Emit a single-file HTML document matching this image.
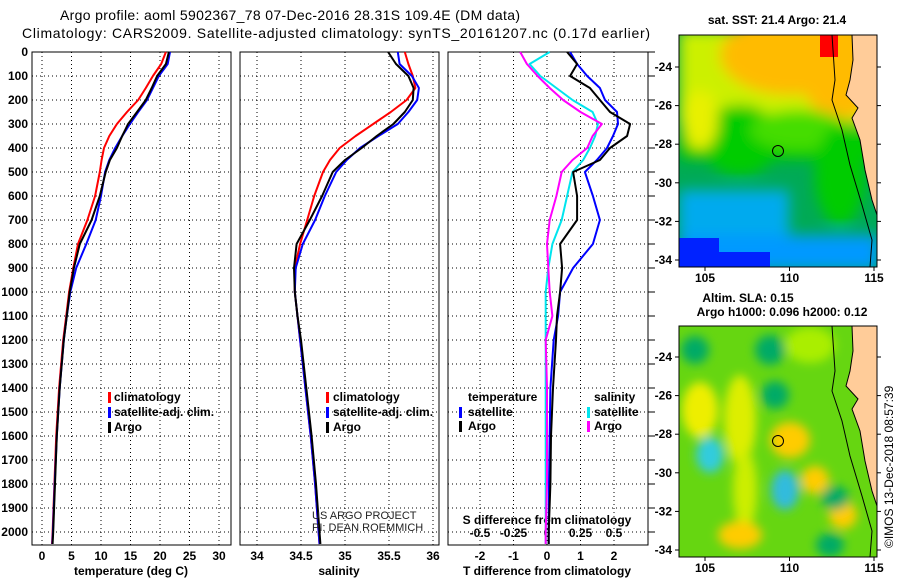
<!DOCTYPE html>
<html><head><meta charset="utf-8">
<style>
html,body{margin:0;padding:0;background:#fff;width:900px;height:580px;overflow:hidden}
svg text{font-family:"Liberation Sans",sans-serif}
.t{font-size:12px;font-weight:bold}
</style></head>
<body>
<svg id="c" width="900" height="580" viewBox="0 0 900 580" xmlns="http://www.w3.org/2000/svg">
<defs>
<filter id="bl" x="-50%" y="-50%" width="200%" height="200%"><feGaussianBlur stdDeviation="7"/></filter>
<filter id="bl2" x="-50%" y="-50%" width="200%" height="200%"><feGaussianBlur stdDeviation="5"/></filter>
<clipPath id="cm1"><rect x="679" y="35" width="198" height="232"/></clipPath>
<clipPath id="cm2"><rect x="679" y="326" width="198" height="231"/></clipPath>
</defs>
<text x="60" y="20" font-size="14" textLength="460">Argo profile: aoml 5902367_78 07-Dec-2016 28.31S 109.4E (DM data)</text>
<text x="22" y="38" font-size="14" textLength="628">Climatology: CARS2009. Satellite-adjusted climatology: synTS_20161207.nc (0.17d earlier)</text>
<g id="plots"></g>
<g>
<text x="777" y="24" class="t" text-anchor="middle">sat. SST: 21.4 Argo: 21.4</text>
<g clip-path="url(#cm1)">
<rect x="679" y="35" width="198" height="232" fill="#00aa55"/>
<g filter="url(#bl)">
<rect x="679" y="30" width="200" height="95" fill="#ccf000"/>
<ellipse cx="790" cy="55" rx="70" ry="40" fill="#ffbb00"/>
<ellipse cx="840" cy="70" rx="40" ry="50" fill="#ffbb00"/>
<ellipse cx="740" cy="140" rx="40" ry="35" fill="#00cc00"/>
<rect x="679" y="130" width="200" height="30" fill="#00cc00"/>
<ellipse cx="700" cy="120" rx="18" ry="30" fill="#e8f000"/>
<ellipse cx="800" cy="130" rx="50" ry="20" fill="#44dd00"/>
<ellipse cx="840" cy="175" rx="25" ry="50" fill="#00cc00"/>
<rect x="679" y="190" width="110" height="80" fill="#00aaee"/>
<rect x="679" y="235" width="200" height="35" fill="#0099ff"/>
</g>
<rect x="679" y="238" width="40" height="29" fill="#0022ff"/>
<rect x="715" y="252" width="55" height="15" fill="#0022ff"/>
<rect x="820" y="35" width="18" height="22" fill="#ff0000"/>
<path d="M877 35 L852 35 L853 60 L850 80 L846 95 L858 108 L852 118 L860 140 L865 170 L872 200 L877 215 Z" fill="#ffcc99" stroke="#000" stroke-width="1"/>
<path d="M832 35 L835 80 L832 100 L842 130 L850 165 L862 205 L872 240 L870 267" fill="none" stroke="#000" stroke-width="1"/>
<circle cx="778" cy="151" r="5.5" fill="none" stroke="#000"/>
</g>
<rect x="679" y="35" width="198" height="232" fill="none" stroke="#000"/>
</g>
<g>
<text x="748" y="302" class="t" text-anchor="middle">Altim. SLA: 0.15</text>
<text x="782" y="316" class="t" text-anchor="middle">Argo h1000: 0.096 h2000: 0.12</text>
<g clip-path="url(#cm2)">
<rect x="679" y="326" width="198" height="231" fill="#66d611"/>
<g filter="url(#bl2)">
<ellipse cx="700" cy="410" rx="18" ry="28" fill="#eeee00"/>
<ellipse cx="740" cy="420" rx="16" ry="45" fill="#ddee00"/>
<ellipse cx="745" cy="490" rx="12" ry="40" fill="#ccee00"/>
<ellipse cx="790" cy="440" rx="20" ry="18" fill="#ffcc00"/>
<ellipse cx="815" cy="480" rx="14" ry="14" fill="#ffcc00"/>
<ellipse cx="843" cy="515" rx="14" ry="14" fill="#ffcc00"/>
<ellipse cx="740" cy="535" rx="22" ry="14" fill="#ffcc00"/>
<ellipse cx="710" cy="455" rx="14" ry="18" fill="#33ccdd"/>
<ellipse cx="785" cy="490" rx="14" ry="20" fill="#33bbdd"/>
<ellipse cx="770" cy="350" rx="15" ry="15" fill="#00aa66"/>
<ellipse cx="775" cy="395" rx="14" ry="14" fill="#00aa66"/>
<ellipse cx="695" cy="350" rx="14" ry="14" fill="#00aa66"/>
<ellipse cx="835" cy="498" rx="14" ry="12" fill="#00aa66"/>
<ellipse cx="830" cy="545" rx="14" ry="12" fill="#00aa66"/>
<ellipse cx="810" cy="345" rx="25" ry="18" fill="#aaee00"/>
</g>
<path d="M877 326 L852 326 L853 351 L850 371 L846 386 L858 399 L852 409 L860 431 L865 461 L872 491 L877 506 Z" fill="#ffcc99" stroke="#000" stroke-width="1"/>
<path d="M832 326 L835 371 L832 391 L842 421 L850 456 L862 496 L872 531 L870 557" fill="none" stroke="#000" stroke-width="1"/>
<circle cx="778" cy="441" r="5.5" fill="none" stroke="#000"/>
</g>
<rect x="679" y="326" width="198" height="231" fill="none" stroke="#000"/>
</g>
<text transform="translate(893,548) rotate(-90)" font-size="12">©IMOS 13-Dec-2018 08:57:39</text>
<text x="312" y="519" font-size="11" fill="#222">US ARGO PROJECT</text>
<text x="312" y="531" font-size="11" fill="#222">PI: DEAN ROEMMICH</text>
</svg>
<script>
const depths=[0,50,100,150,200,250,300,350,400,450,500,600,700,800,900,1000,1100,1200,1400,1600,1800,2000,2050];
const tempClim=[21.0,20.2,18.8,17.6,16.3,14.4,12.7,11.4,10.5,10.1,9.8,9.0,7.7,6.1,5.3,4.6,4.1,3.6,2.9,2.4,2.1,1.8,1.7];
const tempSat=[21.7,21.3,19.8,18.8,17.8,16.3,14.9,13.6,12.4,11.4,10.7,10.0,9.1,7.5,5.8,4.8,4.2,3.7,3.0,2.5,2.15,1.85,1.75];
const tempArgo=[21.5,21.0,19.5,18.6,17.6,16.1,14.6,13.6,12.7,11.5,10.8,9.8,8.4,6.4,5.4,4.7,4.2,3.7,3.0,2.5,2.2,1.9,1.8];
const salClim=[35.68,35.72,35.77,35.80,35.70,35.52,35.32,35.12,34.94,34.83,34.75,34.65,34.57,34.49,34.43,34.43,34.46,34.49,34.55,34.61,34.66,34.70,34.71];
const salSat=[35.60,35.62,35.76,35.84,35.82,35.72,35.60,35.38,35.17,35.02,34.90,34.77,34.66,34.52,34.44,34.43,34.46,34.49,34.55,34.61,34.66,34.70,34.71];
const salArgo=[35.49,35.58,35.72,35.78,35.77,35.68,35.55,35.36,35.19,35.00,34.86,34.74,34.60,34.45,34.42,34.43,34.46,34.50,34.56,34.62,34.67,34.71,34.72];
const dTsat=[0.69,0.9,1.2,1.58,1.73,2.09,2.12,1.97,1.79,1.49,1.13,1.37,1.58,1.37,0.78,0.39,0.33,0.2,0.1,0.08,0.06,0.05,0.05];
const dTargo=[0.6,0.9,0.69,1.28,1.58,1.88,2.48,2.39,1.88,1.58,0.78,0.9,0.9,0.39,0.45,0.39,0.3,0.27,0.18,0.12,0.1,0.05,0.05];
const dSsat=[0.02,-0.13,-0.05,0.07,0.19,0.34,0.38,0.36,0.32,0.27,0.19,0.15,0.11,0.04,0.01,-0.01,-0.01,-0.01,-0.01,-0.01,-0.01,-0.01,-0.01];
const dSargo=[-0.2,-0.15,-0.07,0.02,0.12,0.25,0.41,0.34,0.30,0.19,0.11,0.07,0.02,0,0.01,0.02,0.04,-0.01,0,0,0,-0.01,-0.01];
const depthTicks=[0,100,200,300,400,500,600,700,800,900,1000,1100,1200,1300,1400,1500,1600,1700,1800,1900,2000];
const tempTicks=[0,5,10,15,20,25,30];
const salTicks=[34,34.5,35,35.5,36];
const dTTicks=[-2,-1,0,1,2];
const dSTicks=[-0.5,-0.25,0,0.25,0.5];
const latTicks=[-24,-26,-28,-30,-32,-34];
const lonTicks=[105,110,115];

const NS='http://www.w3.org/2000/svg';
const G=document.getElementById('plots');
function mk(tag,at,parent){const e=document.createElementNS(NS,tag);for(const k in at)e.setAttribute(k,at[k]);(parent||G).appendChild(e);return e;}
const plotTop=52,plotBot=545;
const yD=d=>plotTop+d*0.24;
const xT=v=>42+v*5.9;
const xS=v=>257+(v-34)*88;
const xdT=v=>547+v*33.5;
const xdS=v=>547+v*134;

function panel(x0,x1,xf,ticks,name,fmt){
  const g=mk('g',{});
  
  
  depthTicks.forEach(d=>{const l=mk('line',{x1:x0,x2:x1,y1:yD(d),y2:yD(d),stroke:'#000','stroke-dasharray':'1 3'},g);
    
    });
  ticks.forEach(v=>{const l=mk('line',{x1:xf(v),x2:xf(v),y1:plotTop,y2:plotBot,stroke:'#000','stroke-dasharray':'1 3'},g);
    
    });
  const r=mk('rect',{x:x0,y:plotTop,width:x1-x0,height:plotBot-plotTop,fill:'none',stroke:'#000'},g);
  
  
  if(fmt){ticks.forEach(v=>{const t=mk('text',{x:xf(v),y:560,'text-anchor':'middle',class:'t'},g);t.textContent=fmt(v);
    
    });}
  return g;
}
function line(vals,xf,color,name,w){
  const pts=depths.map((d,i)=>xf(vals[i]).toFixed(1)+','+yD(d).toFixed(1)).join(' ');
  const p=mk('polyline',{points:pts,fill:'none',stroke:color,'stroke-width':w||2,'stroke-linejoin':'round'});
  
  
}
function txt(x,y,s,name,extra){const t=mk('text',Object.assign({x:x,y:y,class:'t'},extra||{}));t.textContent=s;
  
  
  return t;}
function mark(x,y,color){const r=mk('rect',{x:x,y:y-9,width:3,height:11,fill:color});
  
  }

panel(32,231,xT,tempTicks,'temperature-panel',v=>String(v));
depthTicks.forEach(d=>{txt(28,yD(d)+4,String(d),'depth-tick-label',{'text-anchor':'end'});});
txt(131,575,'temperature (deg C)','temperature-axis-title',{'text-anchor':'middle'});
line(tempClim,xT,'#f00','temp-climatology-line');
line(tempSat,xT,'#00f','temp-satellite-line');
line(tempArgo,xT,'#000','temp-argo-line');
mark(108,401,'#f00');txt(114,401,'climatology','legend-climatology');
mark(108,416,'#00f');txt(114,416,'satellite-adj. clim.','legend-satellite');
mark(108,431,'#000');txt(114,431,'Argo','legend-argo');

panel(240,439,xS,salTicks,'salinity-panel',v=>String(v));
txt(339,575,'salinity','salinity-axis-title',{'text-anchor':'middle'});
line(salClim,xS,'#f00','sal-climatology-line');
line(salSat,xS,'#00f','sal-satellite-line');
line(salArgo,xS,'#000','sal-argo-line');
mark(326,401,'#f00');txt(333,401,'climatology','legend-climatology');
mark(326,416,'#00f');txt(333,416,'satellite-adj. clim.','legend-satellite');
mark(326,431,'#000');txt(333,431,'Argo','legend-argo');

panel(448,648,xdT,dTTicks,'difference-panel',v=>String(v));
depthTicks.forEach(d=>{const l=mk('line',{x1:648,x2:655,y1:yD(d),y2:yD(d),stroke:'#000'});
  
  });
dSTicks.forEach(v=>{txt(xdS(v),537,String(v),'s-tick-label',{'text-anchor':'middle'});});
txt(547,524,'S difference from climatology','s-axis-title',{'text-anchor':'middle'});
txt(547,575,'T difference from climatology','t-axis-title',{'text-anchor':'middle'});
line(dSsat,xdS,'#00e5ee','ds-satellite-line');
line(dSargo,xdS,'#ff00ff','ds-argo-line');
line(dTsat,xdT,'#00f','dt-satellite-line');
line(dTargo,xdT,'#000','dt-argo-line');
txt(468,401,'temperature','legend-temperature-heading');
mark(459,416,'#00f');txt(468,416,'satellite','legend-t-satellite');
mark(459,430,'#000');txt(468,430,'Argo','legend-t-argo');
txt(594,401,'salinity','legend-salinity-heading');
mark(587,416,'#00e5ee');txt(594,416,'satellite','legend-s-satellite');
mark(587,430,'#ff00ff');txt(594,430,'Argo','legend-s-argo');

function mapAxes(yBot,latY0){
  const yLat=lat=>latY0+(-24-lat)*19.3;
  const xLon=lon=>705+(lon-105)*16.9;
  latTicks.forEach(lat=>{const y=yLat(lat);
    txt(672,y+4,String(lat),'lat-tick-label',{'text-anchor':'end'});
    mk('line',{x1:675,x2:679,y1:y,y2:y,stroke:'#000'});mk('line',{x1:877,x2:881,y1:y,y2:y,stroke:'#000'});});
  lonTicks.forEach(lon=>{const x=xLon(lon);
    txt(x,yBot+15,String(lon),'lon-tick-label',{'text-anchor':'middle'});
    mk('line',{x1:x,x2:x,y1:yBot,y2:yBot+4,stroke:'#000'});});
}
mapAxes(267,67);
mapAxes(557,357);
</script>
</body></html>
